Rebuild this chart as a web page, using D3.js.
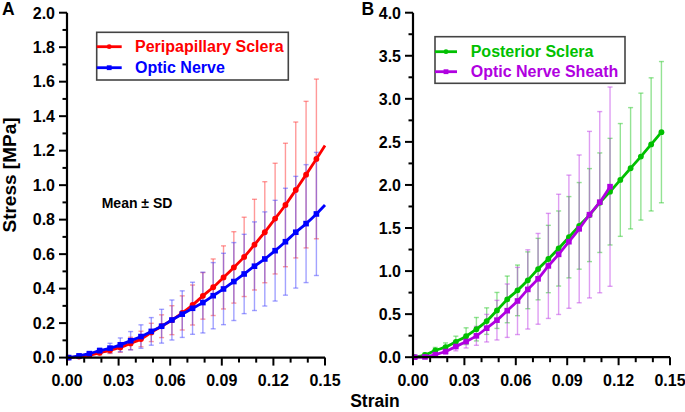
<!DOCTYPE html>
<html><head><meta charset="utf-8">
<script src="https://cdn.jsdelivr.net/npm/d3@7"></script>
<style>
html,body{margin:0;padding:0;background:#fff;}
svg{display:block;font-family:"Liberation Sans",Arial,Helvetica,sans-serif;font-weight:bold;}
</style></head>
<body><svg id="chart" width="685" height="412"></svg>
<script>
// ---------- data ----------
const strain = [0.001,0.007,0.013,0.019,0.025,0.031,0.037,0.043,0.049,0.055,0.061,0.067,0.073,0.079,0.085,0.091,0.097,0.103,0.109,0.115,0.121,0.127,0.133,0.139,0.145];
const periMean = [0,0.006,0.014,0.028,0.042,0.059,0.082,0.108,0.146,0.182,0.217,0.259,0.305,0.358,0.408,0.465,0.523,0.584,0.655,0.727,0.806,0.885,0.972,1.061,1.152];
const periSD   = [0,0.004,0.008,0.012,0.018,0.028,0.036,0.045,0.053,0.066,0.084,0.099,0.116,0.135,0.164,0.183,0.207,0.230,0.263,0.293,0.321,0.358,0.394,0.425,0.463];
const nerveMean = [0,0.010,0.023,0.040,0.055,0.074,0.098,0.122,0.152,0.182,0.218,0.252,0.286,0.319,0.359,0.398,0.441,0.485,0.530,0.572,0.620,0.672,0.727,0.777,0.833];
const nerveSD   = [0,0.004,0.008,0.016,0.028,0.040,0.053,0.068,0.080,0.098,0.116,0.135,0.151,0.176,0.192,0.207,0.226,0.230,0.257,0.273,0.292,0.310,0.324,0.342,0.357];
const tailStrain = 0.15;
const periTail = 1.23;
const nerveTail = 0.885;
const postMean = [0,0.028,0.078,0.118,0.179,0.244,0.325,0.419,0.543,0.671,0.776,0.893,1.023,1.140,1.262,1.393,1.525,1.650,1.794,1.922,2.058,2.194,2.329,2.471,2.613];
const postSD   = [0,0.020,0.035,0.048,0.065,0.097,0.136,0.154,0.209,0.271,0.294,0.330,0.357,0.391,0.436,0.472,0.503,0.540,0.578,0.619,0.655,0.704,0.737,0.773,0.820];
const sheathMean = [0,0.003,0.030,0.066,0.124,0.182,0.248,0.337,0.430,0.540,0.653,0.787,0.910,1.060,1.194,1.341,1.490,1.655,1.800,1.980];
const sheathSD   = [0,0.005,0.015,0.030,0.050,0.075,0.110,0.160,0.230,0.310,0.390,0.460,0.527,0.610,0.698,0.773,0.858,0.967,1.052,1.157];
const xTicks = [0,0.03,0.06,0.09,0.12,0.15];
const xMinor = [0.01,0.02,0.04,0.05,0.07,0.08,0.10,0.11,0.13,0.14];
const yTicksA = [0,0.2,0.4,0.6,0.8,1.0,1.2,1.4,1.6,1.8,2.0];
const yMinorA = [0.1,0.3,0.5,0.7,0.9,1.1,1.3,1.5,1.7,1.9];
const yTicksB = [0,0.5,1.0,1.5,2.0,2.5,3.0,3.5,4.0];
const yMinorB = [0.25,0.75,1.25,1.75,2.25,2.75,3.25,3.75];
const legendA = ["Peripapillary Sclera","Optic Nerve"];
const legendB = ["Posterior Sclera","Optic Nerve Sheath"];

// ---------- drawing ----------
const svg = d3.select("#chart");
const FONT = 16;

function panel(o){
  const x = d3.scaleLinear().domain([0,0.15]).range([o.left,o.right]);
  const y = d3.scaleLinear().domain([0,o.ymax]).range([o.bottom,o.top]);
  const g = svg.append("g");

  // error bars
  o.series.forEach(s=>{
    const eg = g.append("g").attr("stroke",s.bar).attr("stroke-width",1.4).attr("fill","none");
    s.mean.forEach((m,i)=>{
      const sd = s.sd[i]; if(sd<=0) return;
      const xi = x(strain[i]);
      eg.append("line").attr("x1",xi).attr("x2",xi).attr("y1",y(m-sd)).attr("y2",y(m+sd));
      eg.append("line").attr("x1",xi-2.5).attr("x2",xi+2.5).attr("y1",y(m+sd)).attr("y2",y(m+sd));
      eg.append("line").attr("x1",xi-2.5).attr("x2",xi+2.5).attr("y1",y(m-sd)).attr("y2",y(m-sd));
    });
  });
  // lines + markers
  o.series.forEach(s=>{
    const pts = s.mean.map((m,i)=>[strain[i],m]);
    if(s.tail!=null) pts.push([tailStrain,s.tail]);
    g.append("path").datum(pts).attr("fill","none").attr("stroke",s.color).attr("stroke-width",2.8)
      .attr("d",d3.line().x(d=>x(d[0])).y(d=>y(d[1])).curve(d3.curveMonotoneX));
    s.mean.forEach((m,i)=>{
      if(s.shape==="circle") g.append("circle").attr("cx",x(strain[i])).attr("cy",y(m)).attr("r",2.9).attr("fill",s.color);
      else g.append("rect").attr("x",x(strain[i])-2.8).attr("y",y(m)-2.8).attr("width",5.6).attr("height",5.6).attr("fill",s.color);
    });
  });

  // axes
  const ax = g.append("g");
  ax.append("line").attr("x1",o.left).attr("x2",o.right).attr("y1",o.bottom).attr("y2",o.bottom).attr("stroke","#000").attr("stroke-width",2.2);
  ax.append("line").attr("x1",o.left).attr("x2",o.left).attr("y1",o.bottom+1.1).attr("y2",o.top).attr("stroke","#000").attr("stroke-width",2.2);
  xTicks.forEach(t=>{
    ax.append("line").attr("x1",x(t)).attr("x2",x(t)).attr("y1",o.bottom).attr("y2",o.bottom+8).attr("stroke","#000").attr("stroke-width",2);
    ax.append("text").attr("x",x(t)).attr("y",o.bottom+28.5).attr("text-anchor","middle").attr("font-size",FONT).text(d3.format(".2f")(t));
  });
  xMinor.forEach(t=>{
    ax.append("line").attr("x1",x(t)).attr("x2",x(t)).attr("y1",o.bottom).attr("y2",o.bottom+5).attr("stroke","#000").attr("stroke-width",2);
  });
  o.yTicks.forEach(t=>{
    ax.append("line").attr("x1",o.left).attr("x2",o.left-8).attr("y1",y(t)).attr("y2",y(t)).attr("stroke","#000").attr("stroke-width",2);
    ax.append("text").attr("x",o.left-12).attr("y",y(t)+5.8).attr("text-anchor","end").attr("font-size",FONT).text(d3.format(".1f")(t));
  });
  o.yMinor.forEach(t=>{
    ax.append("line").attr("x1",o.left).attr("x2",o.left-4.5).attr("y1",y(t)).attr("y2",y(t)).attr("stroke","#000").attr("stroke-width",2);
  });

  // legend
  const L = o.legend;
  g.append("rect").attr("x",L.x).attr("y",L.y).attr("width",L.w).attr("height",L.h)
    .attr("fill","#fff").attr("stroke","#444").attr("stroke-width",1.6);
  o.series.forEach((s,i)=>{
    const ly = L.rows[i];
    g.append("line").attr("x1",L.x).attr("x2",L.x+L.lineW).attr("y1",ly).attr("y2",ly).attr("stroke",s.color).attr("stroke-width",2.8);
    const cx = L.x+L.lineW/2;
    if(s.shape==="circle") g.append("circle").attr("cx",cx).attr("cy",ly).attr("r",2.4).attr("fill",s.color);
    else g.append("rect").attr("x",cx-2.4).attr("y",ly-2.4).attr("width",4.8).attr("height",4.8).attr("fill",s.color);
    g.append("text").attr("x",L.tx).attr("y",ly+5.5).attr("font-size",FONT).attr("fill",s.color).text(s.name);
  });
  g.append("text").attr("x",o.labelX).attr("y",15).attr("font-size",17.5).text(o.label);
}

panel({
  left:67, right:325, top:12.7, bottom:357.6, ymax:2.0,
  yTicks:yTicksA, yMinor:yMinorA, label:"A", labelX:2,
  series:[
    {name:legendA[0], mean:periMean, sd:periSD, tail:periTail, color:"#ff0000", bar:"rgba(255,70,70,0.55)", shape:"circle"},
    {name:legendA[1], mean:nerveMean, sd:nerveSD, tail:nerveTail, color:"#0000ff", bar:"rgba(70,70,255,0.5)", shape:"square"}
  ],
  legend:{x:96.7,y:32.3,w:191.6,h:47.7,lineW:25,rows:[46.7,67.7],tx:135}
});
panel({
  left:413, right:670, top:12.7, bottom:357.2, ymax:4.0,
  yTicks:yTicksB, yMinor:yMinorB, label:"B", labelX:361.5,
  series:[
    {name:legendB[0], mean:postMean, sd:postSD, tail:null, color:"#00c000", bar:"rgba(40,200,40,0.5)", shape:"circle"},
    {name:legendB[1], mean:sheathMean, sd:sheathSD, tail:null, color:"#b000e0", bar:"rgba(190,60,230,0.5)", shape:"square"}
  ],
  legend:{x:435,y:36.7,w:190,h:46.6,lineW:22,rows:[51.7,71.7],tx:470.7}
});

svg.append("text").attr("x",101.7).attr("y",208.3).attr("font-size",14).text("Mean ± SD");
svg.append("text").attr("transform","translate(16,175) rotate(-90)").attr("text-anchor","middle").attr("font-size",19).text("Stress [MPa]");
svg.append("text").attr("x",375).attr("y",406.5).attr("text-anchor","middle").attr("font-size",17.5).text("Strain");
</script></body></html>
